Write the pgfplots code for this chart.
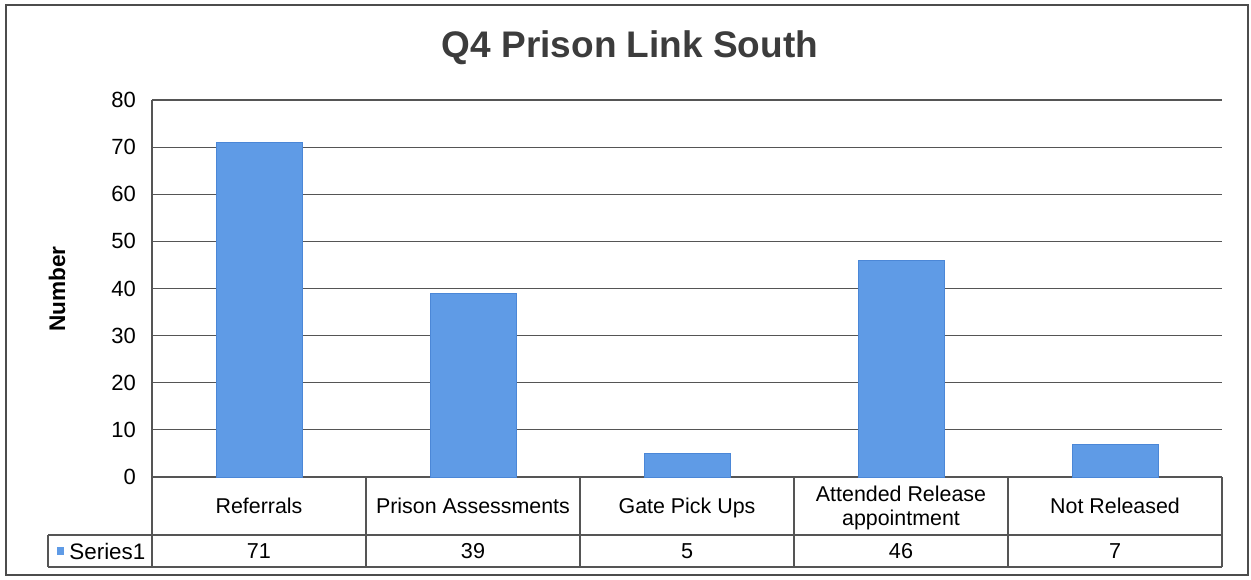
\documentclass[border=0pt]{standalone}
\usepackage{pgfplots}
\pgfplotsset{compat=1.18}
\usepackage{fontspec}
\setmainfont{Liberation Sans}
\definecolor{barblue}{RGB}{95,155,230}
\definecolor{bardark}{RGB}{75,135,215}
\definecolor{gridc}{RGB}{85,85,85}
\definecolor{titlec}{RGB}{60,60,60}
\begin{document}
\begin{tikzpicture}
\begin{scope}[x=0.5pt,y=-0.5pt]
\useasboundingbox (0,0) rectangle (1251,579);
\draw[gray!60!black, line width=0.8pt] (6,5) rectangle (1248,575);
\node[font=\fontsize{18.5}{22}\selectfont\bfseries, text=titlec] at (630,48) {Q4 Prison Link South};
\node[rotate=90, font=\fontsize{11.3}{13}\selectfont\bfseries] at (57,289) {Number};
\end{scope}
\begin{axis}[
  at={(76pt,-238.5pt)}, anchor=south west,
  scale only axis, width=535pt, height=188.5pt,
  xmin=-0.5, xmax=4.5, ymin=0, ymax=80,
  ytick distance=10,
  axis x line*=bottom, axis y line*=left,
  axis line style={gridc, -, line width=0.6pt},
  major tick length=0pt,
  ymajorgrids, grid style={gridc, line width=0.6pt},
  xtick={0,1,2,3,4},
  xticklabels={Referrals\strut, Prison Assessments\strut, Gate Pick Ups\strut, Attended Release\strut\\appointment\strut, Not Released\strut},
  xticklabel style={anchor=center, yshift=-15.75pt, align=center, font=\fontsize{10.7}{12}\selectfont},
  yticklabel style={font=\fontsize{11}{12}\selectfont, xshift=-4.5pt},
  /pgf/number format/assume math mode=true,
  clip=false,
]
\addplot[ybar, bar width=43pt, fill=barblue, draw=bardark] coordinates {(0,71) (1,39) (2,5) (3,46) (4,7)};
\node[font=\fontsize{10.8}{12}\selectfont] at (axis cs:0,0) [yshift=-37pt] {71};
\node[font=\fontsize{10.8}{12}\selectfont] at (axis cs:1,0) [yshift=-37pt] {39};
\node[font=\fontsize{10.8}{12}\selectfont] at (axis cs:2,0) [yshift=-37pt] {5};
\node[font=\fontsize{10.8}{12}\selectfont] at (axis cs:3,0) [yshift=-37pt] {46};
\node[font=\fontsize{10.8}{12}\selectfont] at (axis cs:4,0) [yshift=-37pt] {7};
\end{axis}
\begin{scope}[x=0.5pt,y=-0.5pt]
\draw[gridc, line width=0.6pt] (48,535) -- (1222,535);
\draw[gridc, line width=0.6pt] (48,567) -- (1222,567);
\foreach \xx in {152,366,580,794,1008,1222} {\draw[gridc, line width=0.6pt] (\xx,477) -- (\xx,567);}
\draw[gridc, line width=0.6pt] (48,535) -- (48,567);
\fill[barblue] (57,547) rectangle (64,555);
\node[anchor=west, font=\fontsize{11.2}{12}\selectfont, inner sep=0pt] at (69,551) {Series1};
\end{scope}
\end{tikzpicture}
\end{document}
